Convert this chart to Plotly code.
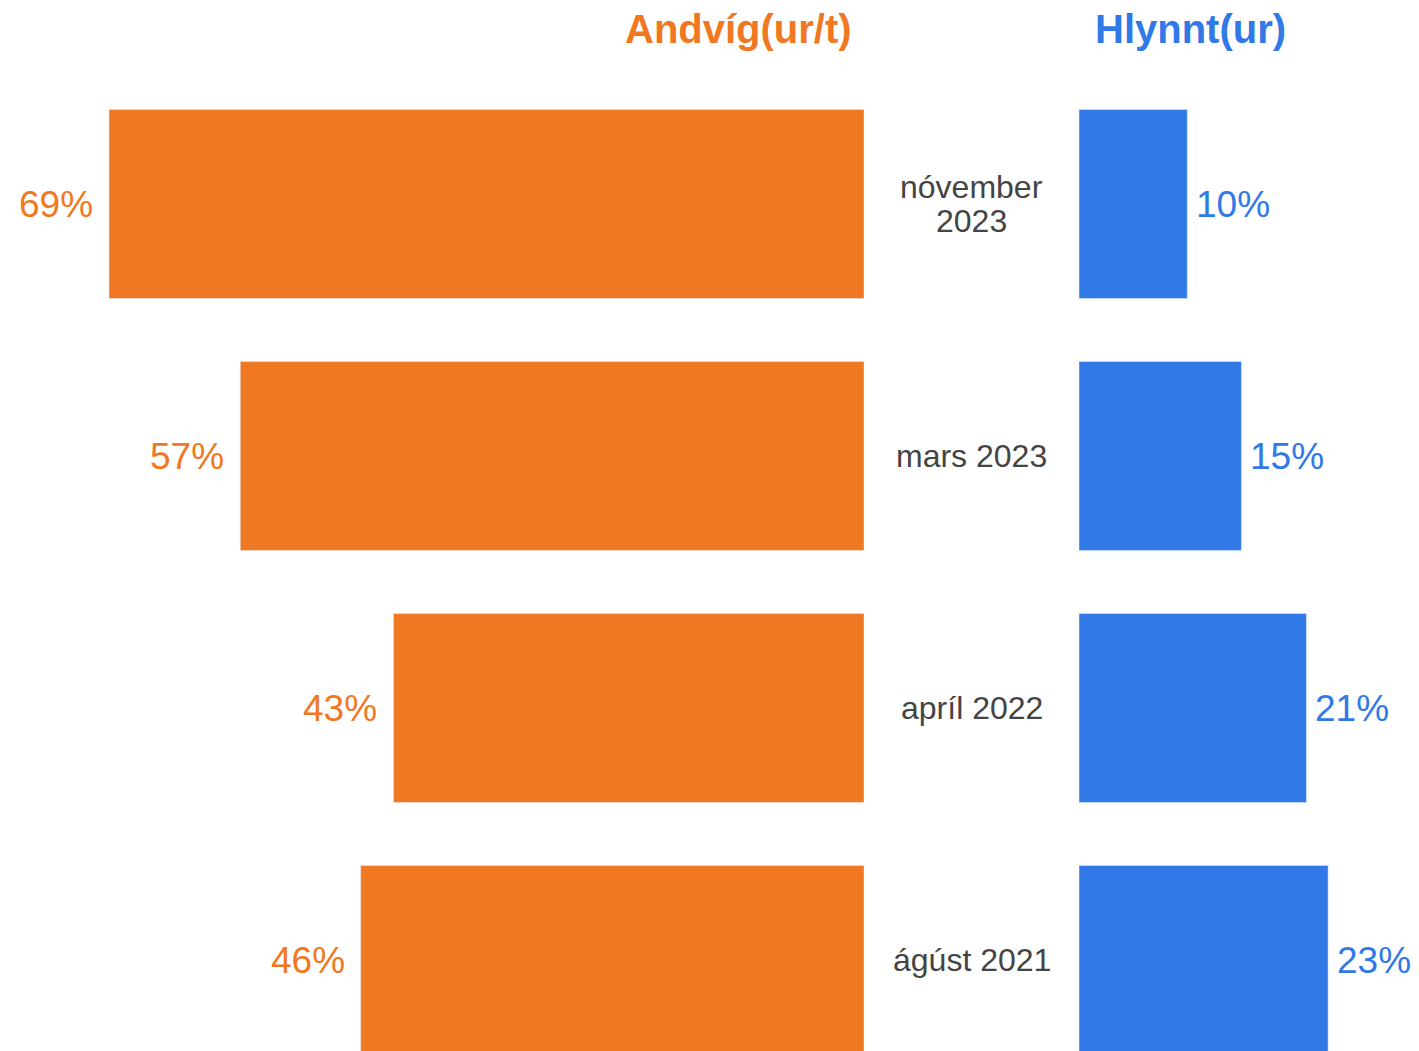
import plotly.graph_objects as go

categories = ["nóvember 2023", "mars 2023", "apríl 2022", "ágúst 2021"]
category_labels = ["nóvember<br>2023", "mars 2023", "apríl 2022", "ágúst 2021"]
andvig = [69, 57, 43, 46]
hlynnt = [10, 15, 21, 23]
title_left = "Andvíg(ur/t)"
title_right = "Hlynnt(ur)"

ORANGE = "#F07822"
BLUE = "#3079E6"
GRAY = "#444444"
FONT = "Arial, Liberation Sans, sans-serif"

OFF = 8  # page body margin
W, H = 1419 - OFF, 1051 - OFF
TOP = 78 - OFF
LEFT_END = 864 - OFF
RIGHT_START = 1079 - OFF

fig = go.Figure()
fig.add_trace(go.Bar(x=andvig, y=categories, orientation="h", marker_color=ORANGE,
                     xaxis="x", yaxis="y", width=0.75, hoverinfo="x+y"))
fig.add_trace(go.Bar(x=hlynnt, y=categories, orientation="h", marker_color=BLUE,
                     xaxis="x2", yaxis="y", width=0.75, hoverinfo="x+y"))

ann = []
for c, v in zip(categories, andvig):
    ann.append(dict(x=v, y=c, xref="x", yref="y", text=f"{v}%", showarrow=False,
                    xanchor="right", xshift=-14, font=dict(size=37, color=ORANGE, family=FONT)))
for c, v in zip(categories, hlynnt):
    ann.append(dict(x=v, y=c, xref="x2", yref="y", text=f"{v}%", showarrow=False,
                    xanchor="left", xshift=7, font=dict(size=37, color=BLUE, family=FONT)))
mid_x = ((LEFT_END + RIGHT_START) / 2) / W
for c, lab in zip(categories, category_labels):
    lines = lab.split("<br>")
    n = len(lines)
    for i, line in enumerate(lines):
        ann.append(dict(x=mid_x, y=c, xref="paper", yref="y", text=line, showarrow=False,
                        xanchor="center", yanchor="middle", yshift=((n - 1) / 2 - i) * 34,
                        font=dict(size=32, color=GRAY, family=FONT)))
ann.append(dict(x=(738.5 - OFF) / W, y=1, xref="paper", yref="paper", xanchor="center",
                yanchor="middle", yshift=49, text=f"<b>{title_left}</b>", showarrow=False,
                font=dict(size=40, color=ORANGE, family=FONT)))
ann.append(dict(x=(1190 - OFF) / W, y=1, xref="paper", yref="paper", xanchor="center",
                yanchor="middle", yshift=49, text=f"<b>{title_right}</b>", showarrow=False,
                font=dict(size=40, color=BLUE, family=FONT)))

plot_h = H - TOP
unit = 252
fig.update_layout(
    width=W, height=H,
    margin=dict(l=0, r=0, t=TOP, b=0, pad=0),
    paper_bgcolor="white", plot_bgcolor="white",
    showlegend=False,
    bargap=0.25,
    font=dict(family=FONT),
    xaxis=dict(domain=[0, LEFT_END / W], range=[LEFT_END / 10.942, 0], visible=False, fixedrange=True),
    xaxis2=dict(domain=[RIGHT_START / W, 1], range=[0, (W - RIGHT_START) / 10.83], visible=False,
                anchor="y", fixedrange=True),
    yaxis=dict(domain=[0, 1], type="category", categoryorder="array", categoryarray=categories,
               range=[-0.5 + plot_h / unit, -0.5], visible=False, fixedrange=True),
    annotations=ann,
)

fig.write_html("out.html")
